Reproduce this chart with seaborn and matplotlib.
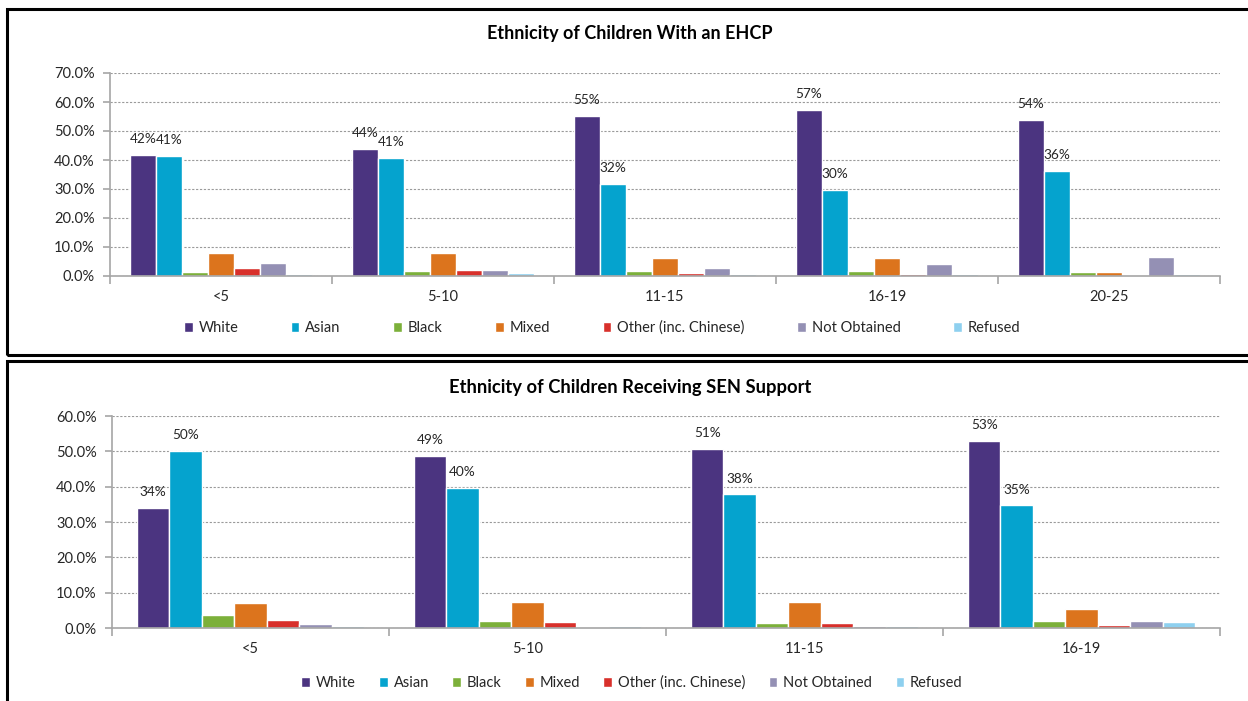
import matplotlib
matplotlib.use("Agg")
import matplotlib.pyplot as plt
from matplotlib.patches import Patch, Rectangle
from matplotlib.ticker import FixedLocator, FuncFormatter
import pandas as pd
import seaborn as sns

ETHNICITIES = ["White", "Asian", "Black", "Mixed", "Other (inc. Chinese)", "Not Obtained", "Refused"]
COLORS = ["#4B3480", "#05A3CE", "#7CB03A", "#DC741D", "#D8302B", "#9490B4", "#8ED0EF"]

# EHCP chart (percent of children)
EHCP_AGES = ["<5", "5-10", "11-15", "16-19", "20-25"]
EHCP_WHITE = [41.7, 43.8, 55.2, 57.2, 53.8]
EHCP_ASIAN = [41.4, 40.7, 31.7, 29.7, 36.2]
EHCP_BLACK = [1.3, 1.8, 1.8, 1.8, 1.3]
EHCP_MIXED = [8.0, 8.0, 6.2, 6.2, 1.3]
EHCP_OTHER = [2.7, 2.2, 0.9, 0.6, 0.0]
EHCP_NOT_OBTAINED = [4.5, 2.2, 2.6, 4.0, 6.6]
EHCP_REFUSED = [0.7, 0.9, 0.7, 0.7, 0.7]

# SEN support chart (percent of children)
SEN_AGES = ["<5", "5-10", "11-15", "16-19"]
SEN_WHITE = [34.1, 48.7, 50.8, 53.0]
SEN_ASIAN = [50.2, 39.6, 37.8, 34.7]
SEN_BLACK = [3.7, 1.9, 1.3, 1.9]
SEN_MIXED = [7.0, 7.3, 7.3, 5.5]
SEN_OTHER = [2.3, 1.6, 1.3, 0.9]
SEN_NOT_OBTAINED = [1.2, 0.0, 0.5, 1.9]
SEN_REFUSED = [0.5, 0.5, 0.5, 1.6]

INK = "#262626"
GRID = "#9A9A9A"
AXIS = "#A6A6A6"

sns.set_theme(style="white")
plt.rcParams["font.family"] = ["Lato", "DejaVu Sans"]


def to_long(ages, series):
    rows = []
    for name, values in zip(ETHNICITIES, series):
        for age, v in zip(ages, values):
            rows.append({"age": age, "ethnicity": name, "pct": v})
    return pd.DataFrame(rows)


def draw_panel(ax, df, ages, ymax, title, title_y, title_size, legend_y, legend_x, colspacing):
    sns.barplot(
        data=df, x="age", y="pct", hue="ethnicity", order=ages, hue_order=ETHNICITIES,
        palette=COLORS, width=0.82, saturation=1, legend=False, ax=ax,
    )
    ax.set_xlim(-0.5, len(ages) - 0.5)
    ax.set_ylim(0, ymax)
    ax.set_yticks(range(0, ymax + 1, 10))
    ax.yaxis.set_major_formatter(FuncFormatter(lambda v, _: f"{v:.1f}%"))
    ax.grid(axis="y", color=GRID, linestyle=(0, (2, 1.5)), linewidth=0.8)
    ax.set_axisbelow(True)
    for side in ("top", "right"):
        ax.spines[side].set_visible(False)
    for side in ("left", "bottom"):
        ax.spines[side].set_color(AXIS)
        ax.spines[side].set_linewidth(1.2)
    ax.tick_params(axis="x", which="major", length=0, pad=10, labelsize=10.5, labelcolor=INK)
    ax.xaxis.set_minor_locator(FixedLocator([i - 0.5 for i in range(len(ages) + 1)]))
    ax.tick_params(axis="x", which="minor", bottom=True, length=6, color=AXIS, width=1.2)
    ax.tick_params(axis="y", left=True, length=5, color=AXIS, width=1.2, pad=6,
                   labelsize=10.5, labelcolor=INK)
    ax.set_xlabel("")
    ax.set_ylabel("")
    for container in ax.containers[:2]:
        ax.bar_label(container, labels=[f"{b.get_height():.0f}%" for b in container],
                     padding=7, fontsize=9.8, color=INK)
    fig = ax.figure
    fig.text(0.505, title_y, title, ha="center", va="center", fontsize=title_size,
             fontweight="bold", color="#000000")
    handles = [Patch(facecolor=c, label=n) for c, n in zip(COLORS, ETHNICITIES)]
    fig.legend(handles=handles, loc="center", bbox_to_anchor=(legend_x, legend_y), ncol=7,
               frameon=False, fontsize=10.5, handlelength=0.6, handleheight=0.6,
               handletextpad=0.4, columnspacing=colspacing, labelcolor=INK)


fig = plt.figure(figsize=(12.48, 7.01), dpi=100)
fig.patch.set_facecolor("white")

# panel frames
fig.patches.append(Rectangle((7 / 1248, 1 - 355 / 701), 1.2, (355 - 9) / 701,
                             transform=fig.transFigure, fill=False, edgecolor="black",
                             linewidth=2.2, zorder=0))
fig.patches.append(Rectangle((7 / 1248, -0.1), 1.2, 0.1 + 1 - 361 / 701,
                             transform=fig.transFigure, fill=False, edgecolor="black",
                             linewidth=2.2, zorder=0))

ax_top = fig.add_axes([110 / 1248, 1 - 276 / 701, 1110 / 1248, 203 / 701])
ehcp = to_long(EHCP_AGES, [EHCP_WHITE, EHCP_ASIAN, EHCP_BLACK, EHCP_MIXED, EHCP_OTHER,
                           EHCP_NOT_OBTAINED, EHCP_REFUSED])
draw_panel(ax_top, ehcp, EHCP_AGES, 70, "Ethnicity of Children With an EHCP",
           1 - 33 / 701, 13, 1 - 328 / 701, 602 / 1248, 3.6)

ax_bot = fig.add_axes([112 / 1248, 1 - 628 / 701, 1108 / 1248, 212 / 701])
sen = to_long(SEN_AGES, [SEN_WHITE, SEN_ASIAN, SEN_BLACK, SEN_MIXED, SEN_OTHER,
                         SEN_NOT_OBTAINED, SEN_REFUSED])
draw_panel(ax_bot, sen, SEN_AGES, 60, "Ethnicity of Children Receiving SEN Support",
           1 - 387 / 701, 13.2, 1 - 683 / 701, 632 / 1248, 1.6)

fig.savefig("out.png", dpi=100)
